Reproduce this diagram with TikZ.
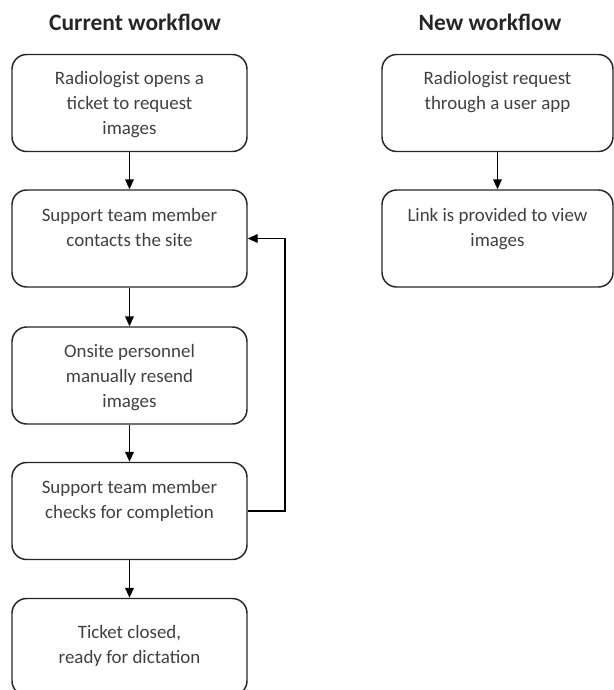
\documentclass[tikz,border=0pt]{standalone}
\usepackage{fontspec}
\setmainfont{Carlito}
\usetikzlibrary{arrows.meta,positioning}

\begin{document}
\begin{tikzpicture}[
  x=0.75pt, y=-0.75pt,
  font=\fontsize{14.2}{18.75}\selectfont, >={Triangle[length=7.5pt,width=6.5pt]}, line width=1.1pt,
  stepbox/.style={rectangle, rounded corners=11pt, draw=black!85, minimum width=176.25pt, minimum height=72.75pt, inner sep=0pt},
  newbox/.style={stepbox, minimum width=173.25pt},
  steptext/.style={align=center, anchor=north, inner sep=0pt, text=black!75},
  heading/.style={font=\fontsize{17.6}{20}\selectfont\bfseries, text=black!85}
]
\useasboundingbox (0,0) rectangle (614,690);
\clip (0,0) rectangle (614,690);

\node[heading] (hcur) at (135,22) {Current workflow};
\node[heading] (hnew) at (490,22) {New workflow};

% current workflow
\node[stepbox] (b1) at (129.5,103) {};
\node[stepbox] (b2) at (129.5,238.5) {};
\node[stepbox] (b3) at (129.5,375.5) {};
\node[stepbox] (b4) at (129.5,511) {};
\node[stepbox] (b5) at (129.5,647) {};

\node[steptext] (t1) at (129.5,71) {Radiologist opens a\\ticket to request\\images};
\node[steptext] (t2) at (129.5,208) {Support team member\\contacts the site};
\node[steptext] (t3) at (129.5,344) {Onsite personnel\\manually resend\\images};
\node[steptext] (t4) at (129.5,480) {Support team member\\checks for completion};
\node[steptext] (t5) at (129.5,625) {Ticket closed,\\ready for dictation};

\draw[->] (b1) -- (b2);
\draw[->] (b2) -- (b3);
\draw[->] (b3) -- (b4);
\draw[->] (b4) -- (b5);

\coordinate (loop) at (285,0);
\draw[->] (b4.east) -- (b4.east -| loop) |- (b2.east);

% new workflow
\node[newbox] (n1) at (497.5,103) {};
\node[newbox] (n2) at (497.5,238.5) {};

\node[steptext] (s1) at (497.5,71) {Radiologist request\\through a user app};
\node[steptext] (s2) at (497.5,208) {Link is provided to view\\images};

\draw[->] (n1) -- (n2);
\end{tikzpicture}
\end{document}
